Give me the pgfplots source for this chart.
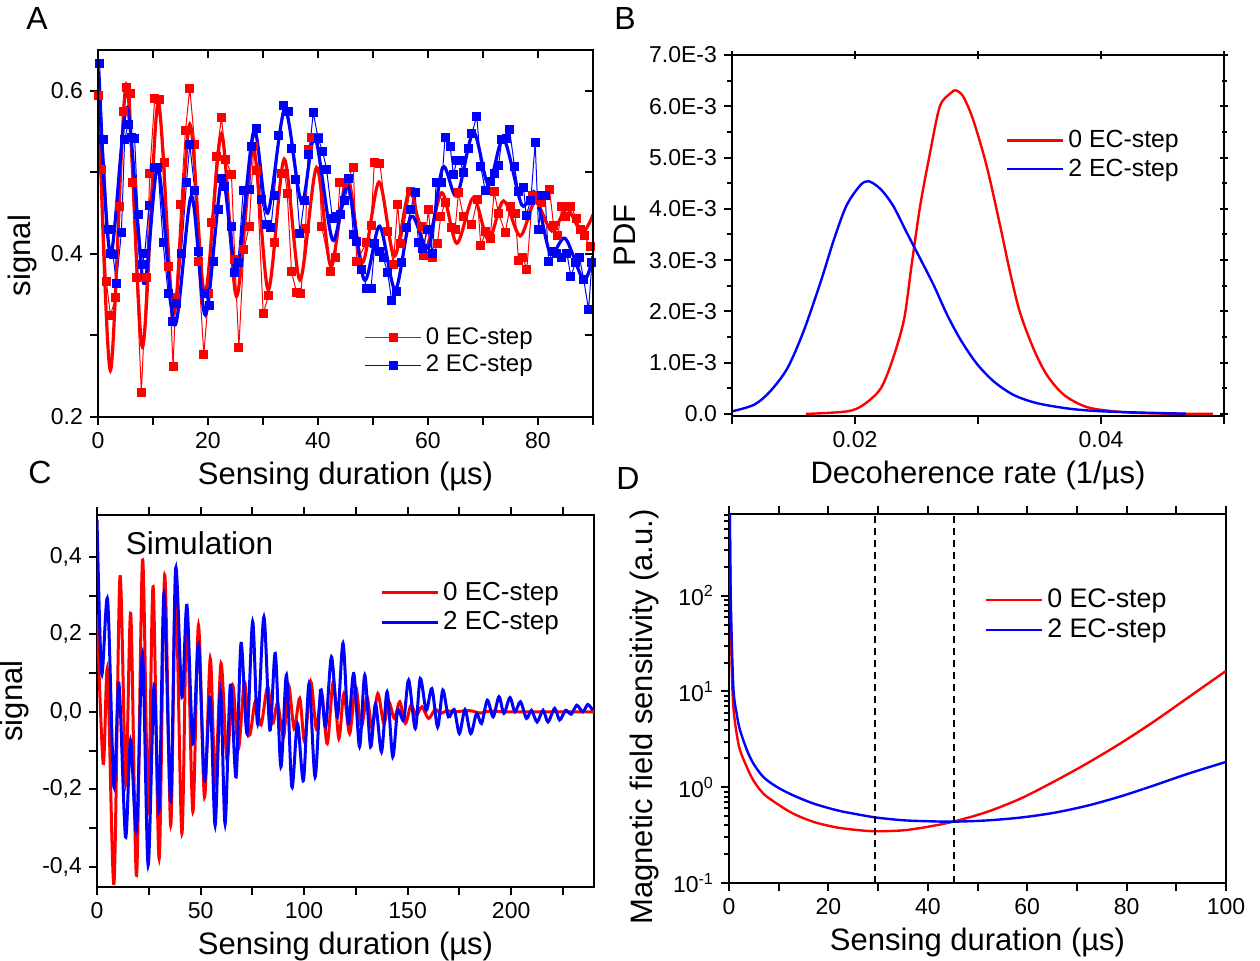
\documentclass[border=0pt]{standalone}
\usepackage{fontspec}
\setmainfont{Liberation Sans}
\usepackage{pgfplots}
\pgfplotsset{compat=1.18}
\definecolor{pred}{RGB}{255,0,0}
\definecolor{pblue}{RGB}{0,0,255}

\pgfplotsset{
  panel/.style={
    scale only axis, anchor=south west,
    axis line style={line width=1pt},
    every tick/.style={black, line width=1pt},
    major tick length=4pt, minor tick length=4pt,
    tick align=outside,
    tick label style={font=\fontsize{11.5}{13}\selectfont},
    label style={font=\fontsize{15.5}{18}\selectfont},
    /pgf/number format/assume math mode=true,
    scaled x ticks=false, scaled y ticks=false,
    legend cell align=left,
    legend style={draw=none, fill=none, inner sep=0pt, anchor=north east},
    legend image code/.code={\draw[mark repeat=2,mark phase=2,##1] plot coordinates {(0pt,0pt) (14pt,0pt) (28pt,0pt)};},
  },
  panelA/.style={at={(49pt,271.5pt)}, width=247.5pt, height=183.5pt,
    xmin=0, xmax=90, ymin=0.2, ymax=0.65,
    xtick={0,10,20,30,40,50,60,70,80,90}, ytick={0.2,0.3,0.4,0.5,0.6}},
  panelB/.style={at={(366pt,272pt)}, width=246pt, height=180.5pt,
    xmin=0.01, xmax=0.05, ymin=-0.00004, ymax=0.007,
    xtick={0.01,0.02,0.03,0.04,0.05},
    ytick={0,0.001,0.002,0.003,0.004,0.005,0.006,0.007},
    minor ytick={0.0005,0.0015,0.0025,0.0035,0.0045,0.0055,0.0065},
    minor tick length=2.5pt},
  panelC/.style={at={(48.5pt,36.5pt)}, width=248.5pt, height=186pt,
    xmin=0, xmax=240, ymin=-0.452, ymax=0.508},
  panelD/.style={at={(364.5pt,38.5pt)}, width=248.5pt, height=184.5pt,
    xmin=0, xmax=100, ymin=0.1, ymax=714},
}

\begin{document}
\begin{tikzpicture}
\path[use as bounding box] (0,0) rectangle (630pt,480pt);

% ---------- A ----------
\begin{axis}[panel, panelA, xtick pos=left, ytick pos=left,
  xticklabels={0,,20,,40,,60,,80,}, yticklabels={0.2,,0.4,,0.6},
  xlabel={Sensing duration (µs)}, ylabel={signal},
  ylabel style={at={(ticklabel cs:0.44)}},
  legend style={at={(0.887,0.256)}, font=\fontsize{12}{14}\selectfont}]
\addplot[pred, line width=0.5pt, mark=square*, mark size=2pt] coordinates {
(0.12,0.594) (0.61,0.504) (1.52,0.366) (2.25,0.325) (3.22,0.346) (3.94,0.458) (4.55,0.575) (5.16,0.604) (5.89,0.597) (6.25,0.487) (6.98,0.371) (7.89,0.230) (8.80,0.371) (9.41,0.499) (10.32,0.591) (11.23,0.589) (12.14,0.512) (12.86,0.385) (13.65,0.262) (14.14,0.346) (15.05,0.460) (15.90,0.551) (16.69,0.603) (17.60,0.534) (18.20,0.391) (19.24,0.277) (20.15,0.352) (20.63,0.438) (21.54,0.520) (22.45,0.567) (23.24,0.516) (24.27,0.497) (24.88,0.393) (25.61,0.285) (26.52,0.405) (27.49,0.434) (28.34,0.532) (28.82,0.502) (30.04,0.327) (31.0,0.349) (32.04,0.414) (33.37,0.499) (33.98,0.499) (34.41,0.474) (35.19,0.378) (36.10,0.353) (36.89,0.351) (37.74,0.431) (38.23,0.528) (38.83,0.543) (40.05,0.543) (40.66,0.434) (42.35,0.378) (43.20,0.396) (43.99,0.488) (44.60,0.488) (45.51,0.493) (46.42,0.506) (47.03,0.391) (48.85,0.414) (49.64,0.435) (50.24,0.512) (51.27,0.511) (52.67,0.428) (53.70,0.387) (54.49,0.461) (55.04,0.413) (56.74,0.477) (58.86,0.434) (59.16,0.398) (60.07,0.454) (60.86,0.395) (61.71,0.413) (62.32,0.446) (63.11,0.463) (64.32,0.432) (64.93,0.430) (65.53,0.475) (66.44,0.446) (67.96,0.436) (68.99,0.467) (69.60,0.410) (70.51,0.428) (71.30,0.419) (72.03,0.476) (72.82,0.450) (74.03,0.426) (74.94,0.458) (75.85,0.449) (76.46,0.392) (77.25,0.396) (77.97,0.381) (79.00,0.471) (79.91,0.467) (80.70,0.463) (82.10,0.479) (82.83,0.435) (83.62,0.422) (84.34,0.458) (85.07,0.446) (85.98,0.458) (86.95,0.444) (87.68,0.430) (88.41,0.422) (89.50,0.409)
};
\addlegendentry{0 EC-step}
\addplot[pblue, line width=0.5pt, mark=square*, mark size=2pt] coordinates {
(0.30,0.633) (0.91,0.540) (1.82,0.430) (2.25,0.400) (2.73,0.399) (3.34,0.364) (4.25,0.426) (4.85,0.540) (5.46,0.559) (6.07,0.543) (6.67,0.541) (7.28,0.448) (8.07,0.387) (8.50,0.401) (9.28,0.459) (10.3,0.506) (10.9,0.506) (11.83,0.414) (12.74,0.352) (13.53,0.317) (14.26,0.339) (15.17,0.401) (16.08,0.487) (16.69,0.534) (17.60,0.478) (18.20,0.403) (19.42,0.352) (20.21,0.337) (20.93,0.391) (21.84,0.454) (22.45,0.493) (23.06,0.483) (24.27,0.434) (24.88,0.377) (25.49,0.389) (26.40,0.478) (27.61,0.479) (27.91,0.532) (28.82,0.554) (29.73,0.467) (30.64,0.436) (31.43,0.432) (32.04,0.471) (32.89,0.545) (33.68,0.582) (34.59,0.574) (35.19,0.529) (35.98,0.491) (36.71,0.425) (37.50,0.465) (38.35,0.522) (39.14,0.573) (40.05,0.541) (40.84,0.526) (41.56,0.504) (42.60,0.444) (43.4,0.446) (44.17,0.448) (44.90,0.465) (45.63,0.493) (46.42,0.424) (47.03,0.415) (47.94,0.381) (48.85,0.358) (49.64,0.358) (50.36,0.413) (51.27,0.403) (51.88,0.395) (52.67,0.377) (53.40,0.343) (54.31,0.354) (55.22,0.389) (56.13,0.432) (56.86,0.455) (57.65,0.475) (58.25,0.414) (59.04,0.407) (59.95,0.430) (60.86,0.400) (61.47,0.487) (62.50,0.487) (63.11,0.543) (64.02,0.532) (64.62,0.497) (65.23,0.514) (65.84,0.514) (66.44,0.500) (67.35,0.529) (67.96,0.547) (68.87,0.569) (69.60,0.507) (70.39,0.478) (71.30,0.489) (72.03,0.499) (72.82,0.508) (73.42,0.540) (74.21,0.541) (74.82,0.553) (75.73,0.507) (76.46,0.477) (77.37,0.481) (77.85,0.447) (78.70,0.466) (79.49,0.537) (80.10,0.430) (80.70,0.471) (81.31,0.471) (81.92,0.391) (82.71,0.403) (83.43,0.400) (84.34,0.395) (85.25,0.401) (85.98,0.372) (86.77,0.389) (87.56,0.395) (88.29,0.369) (89.20,0.332) (89.81,0.389)
};
\addlegendentry{2 EC-step}
\addplot[pred, line width=1.6pt, smooth, forget plot] coordinates {
(0,0.614) (2.25,0.257) (5.16,0.608) (8.07,0.286) (10.92,0.584) (13.77,0.327) (16.69,0.559) (19.42,0.350) (22.45,0.547) (25.18,0.348) (28.22,0.530) (30.95,0.356) (33.86,0.516) (36.71,0.368) (39.75,0.506) (42.35,0.385) (45.33,0.495) (48.06,0.389) (51.09,0.488) (53.88,0.397) (56.74,0.479) (59.47,0.405) (62.50,0.475) (65.23,0.413) (68.26,0.469) (70.99,0.417) (73.73,0.465) (76.76,0.422) (79.49,0.464) (82.52,0.428) (85.25,0.455) (87.99,0.426) (90,0.448)
};
\addplot[pblue, line width=1.6pt, smooth, forget plot] coordinates {
(0,0.627) (2.25,0.399) (5.28,0.579) (8.31,0.364) (10.92,0.506) (13.95,0.313) (16.99,0.471) (19.54,0.325) (22.57,0.493) (25.18,0.378) (28.34,0.551) (30.83,0.450) (33.98,0.577) (37.01,0.463) (39.44,0.543) (42.66,0.417) (45.39,0.483) (48.42,0.368) (51.21,0.434) (54.06,0.356) (56.92,0.446) (60.07,0.407) (62.68,0.506) (65.23,0.471) (68.26,0.549) (70.99,0.485) (73.73,0.541) (77.06,0.460) (79.49,0.475) (82.22,0.401) (84.95,0.419) (88.29,0.368) (90,0.397)
};
\end{axis}
\begin{axis}[panel, panelA, xtick pos=right, ytick pos=right, tick align=inside,
  xticklabels={}, yticklabels={}]
\end{axis}

% ---------- B ----------
\begin{axis}[panel, panelB, xtick pos=left, ytick pos=left,
  xticklabels={,0.02,,0.04,},
  yticklabels={0.0,1.0E-3,2.0E-3,3.0E-3,4.0E-3,5.0E-3,6.0E-3,7.0E-3},
  xlabel={Decoherence rate (1/µs)}, ylabel={PDF},
  legend style={at={(0.917,0.803)}, font=\fontsize{12.4}{14}\selectfont}]
\addplot[pred, line width=1.2pt, smooth] coordinates {
(0.0160,0) (0.01935,0.00005) (0.0207,0.00018) (0.0221,0.0005) (0.0231,0.00109) (0.0240,0.00186) (0.0246,0.0029) (0.0253,0.00406) (0.0261,0.00509) (0.0269,0.0060) (0.0278,0.00626) (0.0282,0.00631) (0.0288,0.00619) (0.0296,0.00574) (0.0307,0.00484) (0.0318,0.00367) (0.0326,0.00277) (0.0334,0.00199) (0.0345,0.00128) (0.0356,0.00076) (0.0370,0.00037) (0.0389,0.00013) (0.0416,0.00004) (0.0443,0.00001) (0.0491,0)
};
\addlegendentry{0 EC-step}
\addplot[pblue, line width=1.2pt, smooth] coordinates {
(0.0100,0.00005) (0.0118,0.00018) (0.0131,0.00044) (0.0145,0.00089) (0.0158,0.0016) (0.0172,0.00257) (0.0183,0.00341) (0.0193,0.00406) (0.0204,0.00445) (0.0211,0.00454) (0.0221,0.00438) (0.0231,0.00406) (0.0242,0.00354) (0.0253,0.00303) (0.0264,0.00251) (0.0275,0.00193) (0.0286,0.00144) (0.0299,0.00098) (0.0313,0.00063) (0.0329,0.00037) (0.0348,0.00021) (0.0375,0.00010) (0.0402,0.00005) (0.0443,0.00002) (0.0469,0.000006)
};
\addlegendentry{2 EC-step}
\end{axis}
\begin{axis}[panel, panelB, xtick pos=right, ytick pos=right, tick align=center,
  xticklabels={}, yticklabels={}]
\end{axis}

% ---------- C ----------
\begin{axis}[panel, panelC, xtick pos=both, ytick pos=left,
  xtick={0,25,50,75,100,125,150,175,200,225},
  xticklabels={0,,50,,100,,150,,200,},
  ytick={-0.4,-0.3,-0.2,-0.1,0,0.1,0.2,0.3,0.4},
  yticklabels={{-0,4},,{-0,2},,{0,0},,{0,2},,{0,4}},
  xlabel={Sensing duration (µs)}, ylabel={signal},
  legend style={at={(0.938,0.831)}, font=\fontsize{13}{15}\selectfont}]
\addplot[pred, line width=1.5pt, smooth] coordinates {
(0,0.25) (3.0,-0.133) (5.1,0.108) (8.2,-0.443) (11.1,0.349) (13.9,-0.185) (16.3,0.254) (19.1,-0.422) (22.0,0.392) (24.7,-0.258) (27.1,0.323) (30.0,-0.379) (32.7,0.353) (35.6,-0.293) (38.0,0.310) (41.0,-0.314) (43.4,0.258) (46.3,-0.258) (49.0,0.224) (51.9,-0.220) (54.7,0.138) (57.1,-0.181) (59.9,0.125) (62.8,-0.125) (65.5,0.069) (68.3,-0.095) (71.2,0.078) (73.6,-0.060) (76.4,0.026) (79.2,-0.034) (82.4,0.065) (84.8,-0.030) (87.2,0.022) (90.1,-0.065) (92.5,0.069) (95.2,-0.043) (97.9,0.035) (100.3,-0.078) (103.2,0.078) (105.9,-0.043) (108.5,0.047) (111.2,-0.082) (114.1,0.078) (116.8,-0.069) (119.2,0.047) (122.0,-0.056) (124.9,0.065) (127.6,-0.039) (130.4,0.039) (132.8,-0.043) (135.6,0.047) (138.5,-0.030) (140.9,0.026) (143.6,-0.017) (146.2,0.026) (148.9,-0.030) (151.6,0.017) (154.2,-0.009) (156.9,0.013) (160.1,-0.017) (163.3,0.006) (166.0,-0.004) (169.0,0.003) (172.0,0) (180.0,0.003) (185.0,-0.003) (190.0,0.002) (200.0,0) (240.0,0)
};
\addlegendentry{0 EC-step}
\addplot[pblue, line width=1.5pt, smooth] coordinates {
(0,0.495) (2.24,0.099) (5.13,0.289) (8.17,-0.194) (10.58,0.073) (13.78,-0.323) (16.19,-0.073) (19.07,-0.306) (21.96,0.151) (24.68,-0.396) (27.56,0.069) (29.97,-0.254) (32.37,0.306) (35.58,-0.228) (37.98,0.370) (41.03,0.038) (43.43,0.275) (46.31,-0.082) (49.04,0.177) (51.92,-0.177) (54.65,0.038) (57.05,-0.293) (59.62,0.056) (61.86,-0.289) (64.42,0.069) (67.15,-0.168) (69.55,0.177) (72.44,-0.056) (75.16,0.233) (77.56,-0.030) (80.6,0.245) (83.5,-0.047) (86.1,0.151) (88.8,-0.142) (91.5,0.095) (94.1,-0.194) (96.8,-0.030) (99.7,-0.177) (102.4,0.073) (105.3,-0.168) (108.0,0.056) (110.4,-0.039) (113.2,0.142) (116.1,-0.013) (118.8,0.177) (121.3,-0.030) (124.0,0.099) (126.8,-0.090) (129.3,0.095) (132.1,-0.090) (134.5,0.021) (137.4,-0.103) (140.1,0.052) (142.8,-0.116) (145.2,0.004) (148.1,-0.021) (150.5,0.082) (153.7,-0.043) (156.1,0.086) (159.0,0.004) (161.7,0.060) (164.5,-0.039) (167.0,0.056) (169.7,-0.013) (172.5,0.006) (175.0,-0.056) (177.7,0.006) (180.5,-0.056) (183.3,-0.004) (185.7,-0.030) (188.5,0.030) (191.3,-0.013) (194.1,0.039) (196.5,-0.004) (199.4,0.037) (201.8,0.0) (204.5,0.026) (207.4,-0.017) (209.8,0.004) (212.5,-0.026) (215.4,0.004) (217.8,-0.026) (221.0,0.009) (223.4,-0.021) (226.3,0.004) (229.0,-0.006) (231.7,0.017) (234.6,0.0) (237.0,0.019) (239.4,0.004)
};
\addlegendentry{2 EC-step}
\node[anchor=west, font=\fontsize{15.8}{18}\selectfont] at (axis cs:10.5,0.436) {Simulation};
\end{axis}

% ---------- D ----------
\begin{semilogyaxis}[panel, panelD, xtick pos=both, ytick pos=left,
  xtick={0,10,20,30,40,50,60,70,80,90,100},
  xticklabels={0,,20,,40,,60,,80,,100},
  ytick={0.1,1,10,100},
  yticklabels={10\textsuperscript{-1},10\textsuperscript{0},10\textsuperscript{1},10\textsuperscript{2}},
  minor ytick={0.2,0.3,0.4,0.5,0.6,0.7,0.8,0.9,2,3,4,5,6,7,8,9,20,30,40,50,60,70,80,90,200,300,400,500,600,700},
  minor tick length=2.5pt,
  xlabel={Sensing duration (µs)}, ylabel={Magnetic field sensitivity (a.u.)},
  ylabel style={at={(ticklabel cs:0.45)}},
  legend style={at={(0.889,0.808)}, font=\fontsize{13.4}{15}\selectfont}]
\addplot[pred, line width=1.2pt, smooth] coordinates {
(0.15,900) (0.33,89.1) (0.54,18.2) (0.87,6.92) (1.54,3.63) (2.2,2.45) (3.6,1.62) (4.9,1.18) (6.9,0.859) (9.6,0.676) (12.9,0.531) (17.0,0.435) (21.7,0.380) (26.4,0.355) (29.7,0.347) (35.1,0.355) (39.8,0.385) (45.1,0.437) (51.8,0.550) (58.6,0.759) (65.3,1.14) (72.0,1.77) (78.7,2.86) (85.4,4.82) (92.1,8.45) (100,16.4)
};
\addlegendentry{0 EC-step}
\addplot[pblue, line width=1.2pt, smooth] coordinates {
(0.15,900) (0.35,95) (0.87,11.2) (1.54,5.89) (2.2,3.98) (3.6,2.45) (4.9,1.77) (6.9,1.28) (9.6,1.01) (12.9,0.824) (17.0,0.676) (21.7,0.575) (25.5,0.525) (29.7,0.482) (35.1,0.452) (39.8,0.442) (45.1,0.437) (51.8,0.450) (58.6,0.482) (65.3,0.540) (72.0,0.640) (78.7,0.800) (85.4,1.04) (92.1,1.37) (100,1.84)
};
\addlegendentry{2 EC-step}
\addplot[black, line width=0.8pt, dash pattern=on 3.5pt off 2.5pt, forget plot] coordinates {(29.4,0.1) (29.4,714)};
\addplot[black, line width=0.8pt, dash pattern=on 3.5pt off 2.5pt, forget plot] coordinates {(45.3,0.1) (45.3,714)};
\end{semilogyaxis}

% panel letters
\node[font=\fontsize{16}{18}\selectfont] at (18.5pt,471pt) {A};
\node[font=\fontsize{16}{18}\selectfont] at (312.5pt,471pt) {B};
\node[font=\fontsize{16}{18}\selectfont] at (20pt,244pt) {C};
\node[font=\fontsize{16}{18}\selectfont] at (314pt,241pt) {D};
\end{tikzpicture}
\end{document}
